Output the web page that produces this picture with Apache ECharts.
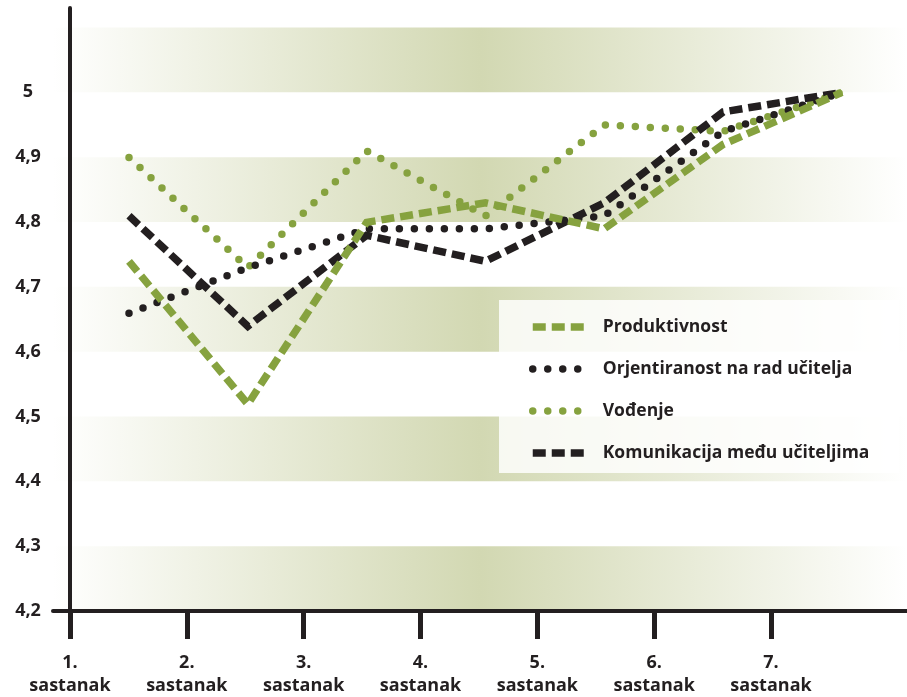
<!DOCTYPE html>
<html>
<head>
<meta charset="utf-8">
<script src="https://cdn.jsdelivr.net/npm/echarts@6/dist/echarts.min.js"></script>
<style>
  html, body { margin: 0; padding: 0; background: #ffffff; }
  #chart { width: 907px; height: 697px; }
</style>
</head>
<body>
<div id="chart"></div>
<script>
// Meeting labels along the bottom axis
const sessions = ['1.\nsastanak', '2.\nsastanak', '3.\nsastanak', '4.\nsastanak', '5.\nsastanak', '6.\nsastanak', '7.\nsastanak'];

// Average scores per meeting
const produktivnost = [4.74, 4.52, 4.80, 4.83, 4.79, 4.92, 5.00];
const orjentiranost = [4.66, 4.73, 4.79, 4.79, 4.81, 4.94, 5.00];
const vodenje       = [4.90, 4.73, 4.91, 4.81, 4.95, 4.94, 5.00];
const komunikacija  = [4.81, 4.64, 4.78, 4.74, 4.83, 4.97, 5.00];

// Value axis tick labels (decimal comma)
const yTickLabels = ['4,2', '4,3', '4,4', '4,5', '4,6', '4,7', '4,8', '4,9', '5'];

const INK = '#231F20';
const GREEN = '#86A23F';
const FONT = '"Open Sans", "DejaVu Sans", sans-serif';

const Y_MIN = 4.2, Y_MAX = 5.13;

const bandFill = new echarts.graphic.LinearGradient(0, 0, 1, 0, [
  { offset: 0, color: '#ffffff' },
  { offset: 0.5, color: '#D2D8B2' },
  { offset: 1, color: '#ffffff' }
]);

const chart = echarts.init(document.getElementById('chart'), null, { renderer: 'canvas' });

const dashed = (color) => ({ color: color, width: 7.5, type: [13, 6], cap: 'butt', join: 'miter' });
const dotted = (color) => ({ color: color, width: 7.5, type: [0, 15], cap: 'round', join: 'round' });

chart.setOption({
  animation: false,
  backgroundColor: '#ffffff',
  grid: [
    { left: 53, right: 0, top: 8, bottom: 85 },
    { left: 129, right: 65, top: 8, bottom: 85 }
  ],
  xAxis: [
    {
      type: 'value',
      gridIndex: 0,
      min: -0.1455,
      max: 7.164,
      axisLine: { show: true, onZero: false, lineStyle: { color: INK, width: 4 } },
      axisTick: {
        show: true, length: 28, inside: false,
        lineStyle: { color: INK, width: 5 },
        customValues: sessions.map((_, i) => i)
      },
      axisLabel: {
        show: true,
        customValues: sessions.map((_, i) => i),
        formatter: (v) => sessions[Math.round(v)] || '',
        margin: 40,
        color: INK,
        fontFamily: FONT,
        fontWeight: 'bold',
        fontSize: 18,
        lineHeight: 23,
        align: 'center',
        verticalAlign: 'top'
      },
      splitLine: { show: false }
    },
    {
      type: 'category',
      gridIndex: 1,
      data: sessions,
      boundaryGap: false,
      show: false
    }
  ],
  yAxis: [
    {
      type: 'value',
      gridIndex: 0,
      min: Y_MIN,
      max: Y_MAX,
      interval: 0.1,
      offset: -17,
      axisLine: { show: true, lineStyle: { color: INK, width: 4 } },
      axisTick: { show: false },
      axisLabel: {
        margin: 42,
        align: 'center',
        color: INK,
        fontFamily: FONT,
        fontWeight: 'bold',
        fontSize: 18,
        formatter: (v) => {
          const i = Math.round((v - Y_MIN) * 10);
          return (Math.abs(v - (Y_MIN + i / 10)) < 1e-6 && yTickLabels[i]) ? yTickLabels[i] : '';
        }
      },
      splitLine: { show: false },
      splitArea: { show: true, areaStyle: { color: [bandFill, 'rgba(255,255,255,0)'] } }
    },
    {
      type: 'value',
      gridIndex: 1,
      min: Y_MIN,
      max: Y_MAX,
      show: false
    }
  ],
  legend: {
    orient: 'vertical',
    left: 499,
    top: 300,
    padding: [17, 30, 10, 30],
    itemWidth: 52,
    itemHeight: 14,
    itemGap: 22,
    backgroundColor: 'rgba(255,255,255,0.82)',
    itemStyle: { color: 'rgba(0,0,0,0)', borderWidth: 0 },
    lineStyle: { width: 'inherit' },
    textStyle: {
      color: INK,
      fontFamily: FONT,
      fontWeight: 'bold',
      fontSize: 17.5,
      lineHeight: 20,
      padding: [0, 0, 0, 13]
    },
    data: ['Produktivnost', 'Orjentiranost na rad učitelja', 'Vođenje', 'Komunikacija među učiteljima']
  },
  series: [
    {
      name: 'Vođenje', type: 'line', xAxisIndex: 1, yAxisIndex: 1,
      data: vodenje, symbol: 'none', lineStyle: dotted(GREEN), itemStyle: { color: GREEN }
    },
    {
      name: 'Orjentiranost na rad učitelja', type: 'line', xAxisIndex: 1, yAxisIndex: 1,
      data: orjentiranost, symbol: 'none', lineStyle: dotted(INK), itemStyle: { color: INK }
    },
    {
      name: 'Komunikacija među učiteljima', type: 'line', xAxisIndex: 1, yAxisIndex: 1,
      data: komunikacija, symbol: 'none', lineStyle: dashed(INK), itemStyle: { color: INK }
    },
    {
      name: 'Produktivnost', type: 'line', xAxisIndex: 1, yAxisIndex: 1,
      data: produktivnost, symbol: 'none', lineStyle: dashed(GREEN), itemStyle: { color: GREEN }
    }
  ]
});
</script>
</body>
</html>
